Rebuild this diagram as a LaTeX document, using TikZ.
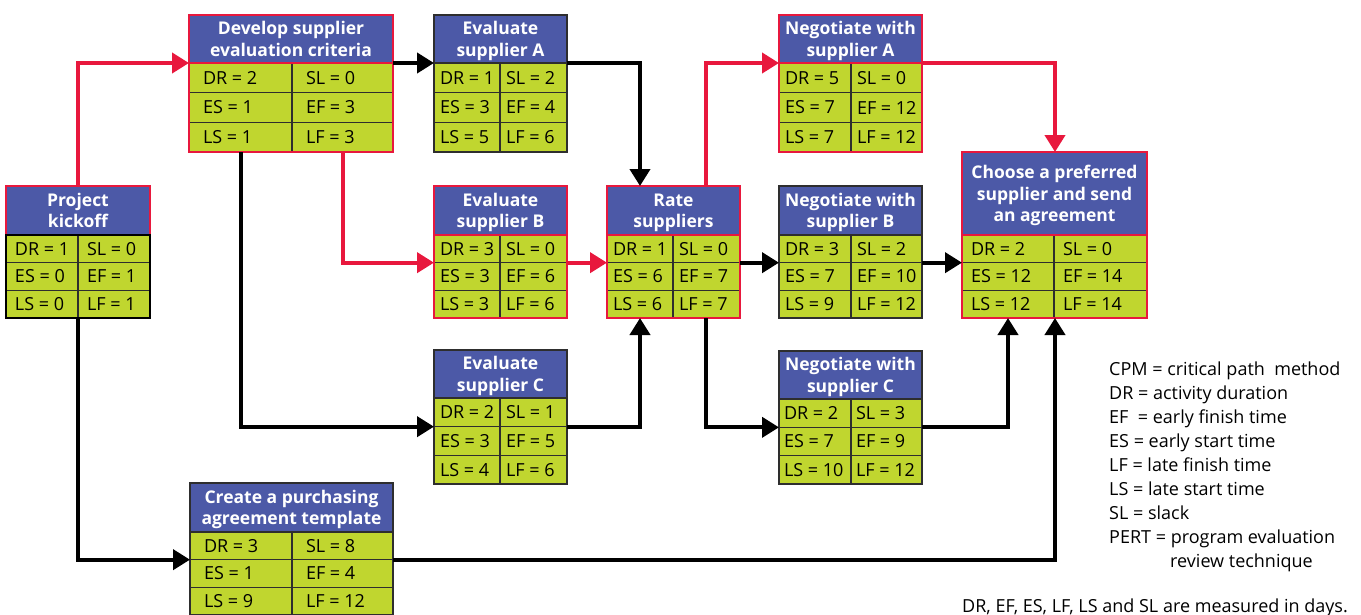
\documentclass[tikz,border=0pt]{standalone}
\usepackage{fontspec}
\setmainfont{Open Sans}
\usetikzlibrary{arrows.meta}
\definecolor{tblue}{HTML}{4C59A7}
\definecolor{tgreen}{HTML}{C0D62F}
\definecolor{tred}{HTML}{E8183D}
\definecolor{tdark}{HTML}{2E2E2E}
\tikzset{
  titlebox/.style={fill=tblue, line width=1.5pt, inner sep=0pt, outer sep=0pt, align=center, text=white, text depth=0pt, font=\bfseries\fontsize{17.5}{21.5}\selectfont},
  cellbox/.style={fill=tgreen, draw=tdark, line width=1.2pt, inner ysep=0pt, outer sep=0pt, font=\fontsize{18}{20}\selectfont},
  framebox/.style={line width=1.5pt, inner sep=0pt, outer sep=0pt, fill=none},
  critline/.style={draw=tred, line width=4pt, -{Triangle[length=17pt,width=20pt]}},
  normline/.style={draw=black, line width=4pt, -{Triangle[length=17pt,width=20pt]}},
  legendtext/.style={align=left, inner sep=0pt, font=\fontsize{18}{24}\selectfont},
  notetext/.style={inner sep=0pt, font=\fontsize{18}{20}\selectfont}
}
% #1 name, #2 left, #3 top, #4 right, #5 table top, #6 bottom, #7 divider x, #8 title, #9 title border colour
\newcommand\actbox[9]{%
  \pgfmathsetmacro\bL{#2}\pgfmathsetmacro\bT{#3}\pgfmathsetmacro\bR{#4}%
  \pgfmathsetmacro\bM{#5}\pgfmathsetmacro\bB{#6}\pgfmathsetmacro\bD{#7}%
  \pgfmathsetmacro\bH{(#6-#5)/3}%
  \def\bN{#1}%
  \node[titlebox, draw=#9, minimum width={#4-#2}, minimum height={#5-#3}, anchor=north west] (#1) at (#2,#3) {#8};
}
% #1 padding, #2 frame colour, #3..#8 cell texts
\newcommand\cells[8]{%
  \pgfmathsetmacro\wA{\bD-\bL-2*#1}%
  \pgfmathsetmacro\wB{\bR-\bD-2*#1}%
  \pgfmathsetmacro\yA{\bM}\pgfmathsetmacro\yB{\bM+\bH}\pgfmathsetmacro\yC{\bM+2*\bH}%
  \node[cellbox, inner xsep=#1pt, minimum height=\bH pt, anchor=north west] (\bN-dr) at (\bL,\yA) {\makebox[\wA pt][l]{#3}};
  \node[cellbox, inner xsep=#1pt, minimum height=\bH pt, anchor=north west] (\bN-sl) at (\bD,\yA) {\makebox[\wB pt][l]{#4}};
  \node[cellbox, inner xsep=#1pt, minimum height=\bH pt, anchor=north west] (\bN-es) at (\bL,\yB) {\makebox[\wA pt][l]{#5}};
  \node[cellbox, inner xsep=#1pt, minimum height=\bH pt, anchor=north west] (\bN-ef) at (\bD,\yB) {\makebox[\wB pt][l]{#6}};
  \node[cellbox, inner xsep=#1pt, minimum height=\bH pt, anchor=north west] (\bN-ls) at (\bL,\yC) {\makebox[\wA pt][l]{#7}};
  \node[cellbox, inner xsep=#1pt, minimum height=\bH pt, anchor=north west] (\bN-lf) at (\bD,\yC) {\makebox[\wB pt][l]{#8}};
  \node[framebox, draw=#2, minimum width={\bR-\bL}, minimum height={\bB-\bM}, anchor=north west] (\bN-t) at (\bL,\bM) {};
}
\begin{document}
\begin{tikzpicture}[x=1pt,y=-1pt]
\useasboundingbox[fill=white] (0,0) rectangle (1361,614);

\actbox{kick}{6}{186}{150}{235}{318}{78}{Project\\kickoff}{tred}
\cells{9}{black}{DR = 1}{SL = 0}{ES = 0}{EF = 1}{LS = 0}{LF = 1}

\actbox{dev}{189}{15}{393}{63}{152}{292}{Develop supplier\\evaluation criteria}{tred}
\cells{14}{tred}{DR = 2}{SL = 0}{ES = 1}{EF = 3}{LS = 1}{LF = 3}

\actbox{evA}{434}{15}{567}{63}{152}{500}{Evaluate\\supplier A}{tdark}
\cells{6}{tdark}{DR = 1}{SL = 2}{ES = 3}{EF = 4}{LS = 5}{LF = 6}

\actbox{evB}{434}{186}{567}{235}{318}{500}{Evaluate\\supplier B}{tred}
\cells{6}{tred}{DR = 3}{SL = 0}{ES = 3}{EF = 6}{LS = 3}{LF = 6}

\actbox{evC}{434}{350}{567}{398}{484}{500}{Evaluate\\supplier C}{tdark}
\cells{6}{tdark}{DR = 2}{SL = 1}{ES = 3}{EF = 5}{LS = 4}{LF = 6}

\actbox{rate}{607}{186}{740}{235}{318}{673}{Rate\\suppliers}{tred}
\cells{6}{tred}{DR = 1}{SL = 0}{ES = 6}{EF = 7}{LS = 6}{LF = 7}

\actbox{negA}{779}{15}{922}{63}{152}{851}{Negotiate with\\supplier A}{tred}
\cells{6}{tred}{DR = 5}{SL = 0}{ES = 7}{EF = 12}{LS = 7}{LF = 12}

\actbox{negB}{779}{186}{922}{235}{318}{851}{Negotiate with\\supplier B}{tdark}
\cells{6}{tdark}{DR = 3}{SL = 2}{ES = 7}{EF = 10}{LS = 9}{LF = 12}

\actbox{negC}{779}{351}{922}{399}{484}{851}{Negotiate with\\supplier C}{tdark}
\cells{5}{tdark}{DR = 2}{SL = 3}{ES = 7}{EF = 9}{LS = 10}{LF = 12}

\actbox{choose}{962}{152}{1147}{235}{318}{1054}{Choose a preferred\\supplier and send\\an agreement}{tred}
\cells{9}{tred}{DR = 2}{SL = 0}{ES = 12}{EF = 14}{LS = 12}{LF = 14}

\actbox{cre}{190}{483}{393}{532}{615}{292}{Create a purchasing\\agreement template}{tdark}
\cells{14}{tdark}{DR = 3}{SL = 8}{ES = 1}{EF = 4}{LS = 9}{LF = 12}

% connectors
\draw[critline] (kick.north) |- (dev.south west);
\draw[normline] (dev.south east) -- (dev.south east -| evA.west);
\draw[normline] (dev-t.south -| 241,0) |- (evC-dr.south west);
\draw[critline] (dev-t.south -| 343,0) |- (evB-dr.south west);
\draw[normline] (evA.south east) -| (rate.north -| 640,0);
\draw[critline] (evB-sl.south east) -- (evB-sl.south east -| rate.west);
\draw[normline] (evC-sl.south east) -| (rate-t.south -| 640,0);
\draw[critline] (rate.north -| 706,0) |- (negA.south west);
\draw[normline] (rate-sl.south east) -- (rate-sl.south east -| negB.west);
\draw[normline] (rate-t.south -| 706,0) |- (negC-dr.south west);
\draw[critline] (negA.south east) -| (choose.north -| 1055,0);
\draw[normline] (negB-sl.south east) -- (negB-sl.south east -| choose.west);
\draw[normline] (negC-sl.south east) -| (choose-t.south -| 1008,0);
\draw[normline] (kick-t.south) |- (cre-dr.south west);
\draw[normline] (cre-sl.south east) -| (choose-t.south -| 1055,0);

% legend
\node[legendtext, anchor=north west] (legend) at (1109,362) {CPM = critical path\ \ method\\DR = activity duration\\EF\ \ = early finish time\\ES = early start time\\LF = late finish time\\LS = late start time\\SL = slack\\PERT = program evaluation\\\hspace*{61pt}review technique};
\node[notetext, anchor=base west] (note) at (962,612) {DR, EF, ES, LF, LS and SL are measured in days.};
\end{tikzpicture}
\end{document}
